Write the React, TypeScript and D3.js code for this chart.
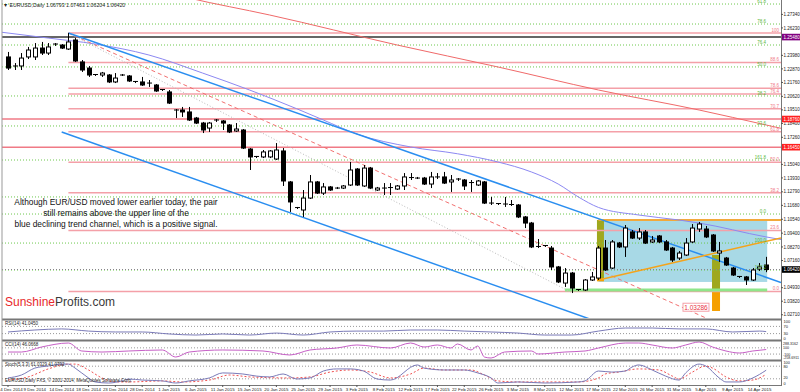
import React from "react";
import * as d3 from "d3";

// x axis labels, one every 4 bars (Sunday bars included)
const dateLabels = [
  "4 Dec 2014", "9 Dec 2014", "14 Dec 2014", "18 Dec 2014", "23 Dec 2014", "28 Dec 2014",
  "1 Jan 2015", "6 Jan 2015", "11 Jan 2015", "15 Jan 2015", "20 Jan 2015", "25 Jan 2015",
  "29 Jan 2015", "3 Feb 2015", "8 Feb 2015", "12 Feb 2015", "17 Feb 2015", "22 Feb 2015",
  "26 Feb 2015", "3 Mar 2015", "8 Mar 2015", "12 Mar 2015", "17 Mar 2015", "22 Mar 2015",
  "26 Mar 2015", "31 Mar 2015", "5 Apr 2015", "9 Apr 2015", "14 Apr 2015",
];

// EUR/USD daily candles, bar 0 = 4 Dec 2014 ... bar 113 = 15 Apr 2015
const open = [
  1.2385, 1.2311, 1.2311, 1.2385, 1.2385, 1.2458, 1.2417, 1.2487, 1.2483, 1.2450,
  1.2524, 1.2344, 1.2294, 1.2241, 1.2237, 1.2237, 1.2180, 1.2233, 1.2229, 1.2184,
  1.2180, 1.2167, 1.2155, 1.2118, 1.2098, 1.1942, 1.1950, 1.1934, 1.1884, 1.1843,
  1.1802, 1.1860, 1.1860, 1.1827, 1.1778, 1.1786, 1.1630, 1.1569, 1.1565, 1.1565,
  1.1548, 1.1614, 1.1360, 1.1150, 1.1130, 1.1228, 1.1360, 1.1269, 1.1319, 1.1306,
  1.1310, 1.1335, 1.1466, 1.1327, 1.1474, 1.1294, 1.1306, 1.1314, 1.1302, 1.1327,
  1.1396, 1.1388, 1.1392, 1.1343, 1.1401, 1.1401, 1.1360, 1.1384, 1.1376, 1.1355,
  1.1335, 1.1360, 1.1183, 1.1183, 1.1175, 1.1175, 1.1171, 1.1073, 1.1023, 1.0831,
  1.0839, 1.0818, 1.0663, 1.0531, 1.0613, 1.0478, 1.0474, 1.0556, 1.0572, 1.0818,
  1.0654, 1.0859, 1.0827, 1.0950, 1.0900, 1.0950, 1.0868, 1.0917, 1.0868, 1.0818,
  1.0736, 1.0761, 1.0868, 1.0974, 1.0974, 1.0925, 1.0777, 1.0736, 1.0654, 1.0585,
  1.0581, 1.0556, 1.0646, 1.0679,
];
const high = [
  1.2426, 1.2335, 1.2417, 1.2467, 1.2499, 1.2508, 1.2499, 1.2499, 1.2491, 1.2581,
  1.2540, 1.2360, 1.2311, 1.2245, 1.2262, 1.2245, 1.2253, 1.2245, 1.2237, 1.2188,
  1.2221, 1.2196, 1.2163, 1.2122, 1.2114, 1.1958, 1.1975, 1.1975, 1.1893, 1.1852,
  1.1852, 1.1876, 1.1868, 1.1835, 1.1843, 1.1794, 1.1638, 1.1573, 1.1622, 1.1622,
  1.1679, 1.1638, 1.1368, 1.1155, 1.1294, 1.1417, 1.1368, 1.1351, 1.1327, 1.1319,
  1.1335, 1.1524, 1.1474, 1.1499, 1.1483, 1.1319, 1.1351, 1.1351, 1.1335, 1.1433,
  1.1433, 1.1401, 1.1401, 1.1442, 1.1433, 1.1442, 1.1417, 1.1392, 1.1384, 1.1376,
  1.1376, 1.1368, 1.1237, 1.1187, 1.1237, 1.1212, 1.1179, 1.1081, 1.1032, 1.0892,
  1.0843, 1.0835, 1.0671, 1.0654, 1.0622, 1.0482, 1.0564, 1.0622, 1.0835, 1.0884,
  1.0884, 1.0868, 1.1007, 1.0966, 1.0982, 1.0966, 1.0917, 1.0925, 1.0884, 1.0827,
  1.0794, 1.0900, 1.1015, 1.1032, 1.0999, 1.0933, 1.0868, 1.0745, 1.0663, 1.0589,
  1.0589, 1.0654, 1.0695, 1.0746,
];
const low = [
  1.2278, 1.2278, 1.2278, 1.2368, 1.2360, 1.2401, 1.2401, 1.2475, 1.2450, 1.2442,
  1.2344, 1.2262, 1.2221, 1.2229, 1.2221, 1.2171, 1.2171, 1.2229, 1.2180, 1.2171,
  1.2147, 1.2139, 1.2098, 1.2106, 1.1999, 1.1884, 1.1893, 1.1860, 1.1835, 1.1761,
  1.1770, 1.1852, 1.1786, 1.1761, 1.1770, 1.1630, 1.1458, 1.1556, 1.1556, 1.1556,
  1.1540, 1.1327, 1.1114, 1.1138, 1.1073, 1.1220, 1.1261, 1.1253, 1.1286, 1.1302,
  1.1302, 1.1327, 1.1327, 1.1319, 1.1302, 1.1286, 1.1253, 1.1253, 1.1294, 1.1294,
  1.1376, 1.1384, 1.1335, 1.1310, 1.1384, 1.1343, 1.1278, 1.1368, 1.1294, 1.1278,
  1.1327, 1.1179, 1.1171, 1.1171, 1.1155, 1.1163, 1.1064, 1.0982, 1.0818, 1.0818,
  1.0827, 1.0638, 1.0531, 1.0499, 1.0449, 1.0466, 1.0466, 1.0548, 1.0556, 1.0630,
  1.0646, 1.0818, 1.0745, 1.0892, 1.0884, 1.0851, 1.0859, 1.0859, 1.0794, 1.0704,
  1.0720, 1.0753, 1.0859, 1.0950, 1.0900, 1.0786, 1.0704, 1.0671, 1.0589, 1.0572,
  1.0515, 1.0548, 1.0630, 1.0620,
];
const close = [
  1.2294, 1.2303, 1.2376, 1.2442, 1.2458, 1.2417, 1.2467, 1.2491, 1.2458, 1.2508,
  1.2352, 1.2278, 1.2237, 1.2237, 1.2253, 1.2180, 1.2212, 1.2237, 1.2188, 1.2180,
  1.2155, 1.2171, 1.2106, 1.2114, 1.2007, 1.1950, 1.1934, 1.1868, 1.1843, 1.1786,
  1.1843, 1.1868, 1.1843, 1.1770, 1.1794, 1.1638, 1.1565, 1.1565, 1.1606, 1.1614,
  1.1622, 1.1368, 1.1196, 1.1146, 1.1228, 1.1360, 1.1269, 1.1319, 1.1294, 1.1310,
  1.1327, 1.1458, 1.1335, 1.1474, 1.1310, 1.1310, 1.1310, 1.1310, 1.1327, 1.1401,
  1.1392, 1.1392, 1.1343, 1.1401, 1.1392, 1.1351, 1.1376, 1.1376, 1.1327, 1.1351,
  1.1368, 1.1187, 1.1187, 1.1179, 1.1179, 1.1171, 1.1073, 1.1023, 1.0827, 1.0827,
  1.0835, 1.0663, 1.0540, 1.0613, 1.0490, 1.0474, 1.0556, 1.0581, 1.0818, 1.0638,
  1.0868, 1.0827, 1.0982, 1.0900, 1.0950, 1.0859, 1.0884, 1.0868, 1.0802, 1.0720,
  1.0777, 1.0859, 1.0982, 1.1015, 1.0909, 1.0794, 1.0794, 1.0679, 1.0597, 1.0581,
  1.0556, 1.0638, 1.0663, 1.0642,
];

// moving averages, read at a few bars
const maSlowBars = [21, 27, 39, 58, 73, 88, 103, 113, 116];
const maSlow = [1.2950, 1.2868, 1.2729, 1.2483, 1.2303, 1.2114, 1.1950, 1.1827, 1.1790];
const maFastBars = [-2, 6, 13, 21, 29, 36, 43, 47, 52, 60, 67, 73, 78, 82, 85, 88, 94, 100, 103, 113, 116];
const maFast = [
  1.2595, 1.2540, 1.2491, 1.2401, 1.2253, 1.2114, 1.1961, 1.1868, 1.1753, 1.1647, 1.1591,
  1.1524, 1.1442, 1.1343, 1.1237, 1.1151, 1.1089, 1.1048, 1.1023, 1.0909, 1.0880,
];

// price axis
const priceTicks = [
  "1.27340", "1.26230", "1.23980", "1.22870", "1.21760", "1.20620", "1.19510", "1.18400",
  "1.17260", "1.15040", "1.13930", "1.12790", "1.11680", "1.10540", "1.09400", "1.08270",
  "1.07160", "1.04930", "1.03820", "1.02710",
];
const markedPrices = [
  { label: "1.25480", bg: "#800080" },
  { label: "1.18760", bg: "#ff2020" },
  { label: "1.16450", bg: "#ff2020" },
  { label: "1.06420", bg: "#000000" },
];

// fibonacci retracement (pink) from the 16 Dec high to the March low
const fibHigh = 1.2581;
const fibLow = 1.0462;
const fibLevels = [0, 23.6, 38.2, 50, 61.8, 70.7, 76.4, 78.6, 88.6, 100];
// green dotted levels
const greenLevels = [1.2819, 1.2655, 1.2483, 1.2303, 1.2065, 1.1819, 1.1540, 1.1237, 1.1097, 1.0859, 1.0638];
const greenLabels = ["61.8", "78.6", "76.4", "50.0", "38.2", "23.6", "161.8", "", "0.0", "100.0", "127.2"];

// indicators
const rsiBars = [0, 4, 8, 12, 16, 20, 24, 28, 32, 36, 40, 44, 48, 52, 56, 60, 64, 68, 72, 76, 80, 84, 88, 92, 96, 100, 104, 108, 112, 113];
const rsiValues = [39, 50, 56, 44, 39, 39, 28, 22, 28, 22, 33, 22, 39, 44, 44, 50, 50, 44, 39, 33, 22, 22, 44, 61, 61, 56, 56, 39, 44, 41];

const cciBars = [0, 2, 5, 9, 11, 14, 18, 23, 25, 27, 32, 38, 42, 45, 49, 52, 57, 60, 62, 64, 66, 67, 69, 70, 71, 72, 74, 78, 79, 83, 86, 88, 92, 94, 96, 99, 101, 103, 105, 107, 109, 111, 113];
const cciValues = [-34, -34, 127, 256, -1, -34, -1, 31, -195, -34, 31, -1, -130, 31, 95, 192, 95, 256, 127, 192, 95, 224, 31, 160, -195, -227, -34, -1, -98, -34, -1, 95, 256, 256, 192, 95, 192, 288, 127, -1, -66, -1, 46];

const stochBars = [0, 2, 4, 6, 8, 9, 10, 12, 13, 15, 17, 18, 20, 23, 25, 27, 30, 32, 35, 37, 39, 41, 43, 45, 47, 49, 51, 53, 55, 57, 61, 62, 65, 68, 70, 72, 73, 76, 80, 85, 86, 88, 90, 92, 93, 94, 96, 98, 100, 101, 103, 104, 106, 107, 109, 111, 113];
const stochMain = [24, 38, 71, 81, 90, 90, 71, 24, 5, 0, 10, 19, 14, 10, 0, 10, 24, 48, 43, 33, 29, 43, 19, 24, 57, 67, 67, 57, 19, 14, 86, 71, 62, 62, 48, 24, 0, 5, 0, 5, 10, 57, 52, 57, 76, 86, 62, 33, 14, 48, 90, 81, 24, 5, 5, 24, 61];
const signalBars = [0, 3, 6, 9, 10, 12, 14, 16, 18, 23, 26, 30, 33, 36, 42, 45, 48, 51, 54, 57, 60, 62, 65, 69, 71, 73, 76, 85, 88, 89, 91, 94, 97, 99, 100, 102, 104, 105, 107, 109, 111, 113];
const stochSignal = [14, 29, 67, 90, 90, 62, 24, 5, 5, 10, 5, 14, 38, 29, 24, 29, 52, 62, 52, 24, 43, 71, 62, 62, 38, 10, 5, 5, 24, 43, 52, 67, 62, 33, 19, 52, 81, 71, 29, 10, 14, 41];

const noteLines = [
  "Although EUR/USD moved lower earlier today, the pair",
  "still remains above the upper line of the",
  "blue declining trend channel, which is a positive signal.",
];

const FONT = "'Liberation Sans', Arial, sans-serif";

export default function App() {
  const W = 800;
  const H = 392;
  const left = 2;
  const right = 781;
  const mainBottom = 318;

  const x = d3.scaleLinear().domain([0, 113]).range([8, 766.2]);
  const y = d3.scaleLinear().domain([1.02444, 1.2852]).range([mainBottom, 0]);
  const rsiY = d3.scaleLinear().domain([0, 100]).range([339, 321]);
  const cciY = d3.scaleLinear().domain([-258.6911, 288.3162]).range([359, 342]);
  const stY = d3.scaleLinear().domain([0, 100]).range([383, 362]);

  // straight line through two (bar, price) anchors, drawn between two bars
  const trend = (b1: number, p1: number, b2: number, p2: number, from: number, to: number) => {
    const k = (p2 - p1) / (b2 - b1);
    return { x1: x(from), y1: y(p1 + k * (from - b1)), x2: x(to), y2: y(p1 + k * (to - b1)) };
  };
  const barAt = (px: number) => x.invert(px);

  const maLine = (bars: number[]) =>
    d3.line<number>().x((_, k) => x(bars[k])).y(v => y(v)).curve(d3.curveMonotoneX);
  const indLine = (bars: number[], sc: d3.ScaleLinear<number, number>) =>
    d3.line<number>().x((_, k) => x(bars[k])).y(v => sc(v)).curve(d3.curveMonotoneX);

  const fibPrice = (r: number) => fibLow + ((fibHigh - fibLow) * r) / 100;

  const upper = trend(9, 1.2581, 113, 1.0578, 9, barAt(right));
  const lower = trend(8, 1.177, 86, 1.025, 8, 92);
  const redDash = trend(9, 1.2581, 100.6, 1.03286, 9, 108);
  const grayDot = trend(9, 1.2581, 84, 1.0453, 9, 84);
  const orange = trend(88, 1.0556, 113, 1.0873, 88, barAt(right));

  const panelSep = [319.5, 340.5, 360.5];
  const tiny = 4.5;

  return (
    <svg width={W} height={H} style={{ position: "absolute", left: 0, top: 0, background: "#fff" }} fontFamily={FONT}>
      <defs>
        <clipPath id="mainClip">
          <rect x={left} y={0} width={right - left} height={mainBottom} />
        </clipPath>
        <clipPath id="indClip">
          <rect x={left} y={320} width={right - left} height={66} />
        </clipPath>
      </defs>

      <g clipPath="url(#mainClip)">
        {/* consolidation box and range bars */}
        <rect x={x(88)} y={y(1.1048)} width={x(113) + 1 - x(88)} height={y(1.054) - y(1.1048)} fill="#a8d9e6" />
        <rect x={x(88) - 1.5} y={y(1.1048)} width={7} height={y(1.0572) - y(1.1048)} fill="#9fa81e" />
        <rect x={x(88) - 1.5} y={y(1.0572)} width={7} height={y(1.0545) - y(1.0572)} fill="#f5a000" />
        <rect x={x(105) - 0.5} y={y(1.0761)} width={8} height={y(1.0474) - y(1.0761)} fill="#9fa81e" />
        <rect x={x(105) - 0.5} y={y(1.0474)} width={8} height={y(1.0302) - y(1.0474)} fill="#f5a000" />

        {/* green dotted levels */}
        {greenLevels.map((p, i) => (
          <line key={`g${i}`} x1={left} x2={right} y1={y(p)} y2={y(p)} stroke="#6cc84c" strokeDasharray="1,2" />
        ))}

        {/* horizontal lines */}
        <line x1={left} x2={right} y1={y(1.2548)} y2={y(1.2548)} stroke="#333" strokeWidth={1.5} />
        <line x1={left} x2={right} y1={y(1.1876)} y2={y(1.1876)} stroke="#f07a86" strokeWidth={1.5} />
        <line x1={left} x2={right} y1={y(1.1645)} y2={y(1.1645)} stroke="#f07a86" strokeWidth={1.5} />
        {fibLevels.map(r => (
          <line key={`f${r}`} x1={x(9)} x2={right} y1={y(fibPrice(r))} y2={y(fibPrice(r))} stroke="#f4a0a8" strokeWidth={1.5} />
        ))}
        <line x1={left} x2={right} y1={y(1.0642)} y2={y(1.0642)} stroke="#888" strokeDasharray="1,2" />
        <line x1={x(83)} x2={x(113) + 1} y1={y(1.0474)} y2={y(1.0474)} stroke="#8ee68a" strokeWidth={3} />
        <line x1={x(88)} x2={right} y1={y(1.1048)} y2={y(1.1048)} stroke="#f2a93b" strokeWidth={2} />

        {/* moving averages */}
        <path d={maLine(maSlowBars)(maSlow) ?? ""} fill="none" stroke="#f06a6a" strokeWidth={1} />
        <path d={maLine(maFastBars)(maFast) ?? ""} fill="none" stroke="#8c88f2" strokeWidth={1} />

        {/* trend lines */}
        <line {...grayDot} stroke="#bbb" strokeDasharray="1,2" />
        <line {...redDash} stroke="#f27070" strokeDasharray="4,3" />
        <line {...upper} stroke="#2a8ef0" strokeWidth={1.5} />
        <line {...lower} stroke="#2a8ef0" strokeWidth={1.5} />
        <line {...orange} stroke="#f5a31a" strokeWidth={1.5} />

        {/* candles */}
        {open.map((o, i) => {
          const c = close[i];
          const cx = Math.round(x(i)) + 0.5;
          const top = y(Math.max(o, c));
          const bot = y(Math.min(o, c));
          const h = bot - top;
          return (
            <g key={`c${i}`}>
              <line x1={cx} x2={cx} y1={y(high[i])} y2={y(low[i])} stroke="#000" />
              {h < 1.5 ? (
                <line x1={cx - 2.5} x2={cx + 2.5} y1={top} y2={top} stroke="#000" />
              ) : (
                <rect x={cx - 2} y={top} width={4} height={h} fill={c >= o ? "#fff" : "#000"} stroke="#000" />
              )}
            </g>
          );
        })}

        {/* level labels */}
        {fibLevels.map(r => (
          <text key={`fl${r}`} x={779} y={y(fibPrice(r)) - 1.2} fontSize={tiny} fill="#f07a86" textAnchor="end">
            {r === 0 ? "0.0" : r === 100 ? "100" : r.toFixed(1)}
          </text>
        ))}
        {greenLevels.map((p, i) => (
          <text key={`gl${i}`} x={766} y={y(p) - 1.2} fontSize={tiny} fill="#5cb83c" textAnchor="end">
            {greenLabels[i]}
          </text>
        ))}

        {/* 1.03286 tag on the dashed line */}
        <rect x={x(100.6)} y={y(1.03286) - 4.5} width={26} height={8} fill="#fff" stroke="#f4a0a8" />
        <text x={x(100.6) + 13} y={y(1.03286) + 2.2} fontSize={6.5} fill="#e83040" textAnchor="middle">1.03286</text>
      </g>

      {/* header and notes */}
      <text x={3} y={7} fontSize={5.2} fill="#222">▼ EURUSD,Daily  1.06793 1.07463 1.06204 1.06420</text>
      {noteLines.map((t, i) => (
        <text key={`n${i}`} x={116} y={205 + i * 11.2} fontSize={8.4} fill="#111" textAnchor="middle">{t}</text>
      ))}
      <text x={5} y={306} fontSize={12}>
        <tspan fill="#e8272a">Sunshine</tspan>
        <tspan fill="#3a3a3a">Profits.com</tspan>
      </text>

      {/* indicator panels */}
      <g clipPath="url(#indClip)">
        {[70, 30].map(v => (
          <line key={`r${v}`} x1={left} x2={right} y1={rsiY(v)} y2={rsiY(v)} stroke="#999" strokeDasharray="1,2" />
        ))}
        {[100, -100].map(v => (
          <line key={`cc${v}`} x1={left} x2={right} y1={cciY(v)} y2={cciY(v)} stroke="#999" strokeDasharray="1,2" />
        ))}
        {[80, 20].map(v => (
          <line key={`s${v}`} x1={left} x2={right} y1={stY(v)} y2={stY(v)} stroke="#999" strokeDasharray="1,2" />
        ))}
        <path d={indLine(rsiBars, rsiY)(rsiValues) ?? ""} fill="none" stroke="#7a7ab8" strokeWidth={1} />
        <path d={indLine(cciBars, cciY)(cciValues) ?? ""} fill="none" stroke="#c65fc6" strokeWidth={1} />
        <path d={indLine(signalBars, stY)(stochSignal) ?? ""} fill="none" stroke="#f05050" strokeDasharray="2,2" strokeWidth={1} />
        <path d={indLine(stochBars, stY)(stochMain) ?? ""} fill="none" stroke="#7a7ab8" strokeWidth={1} />
      </g>
      <text x={5} y={325} fontSize={tiny} fill="#222">RSI(14) 41.0450</text>
      <text x={5} y={346} fontSize={tiny} fill="#222">CCI(14) 46.0668</text>
      <text x={5} y={366} fontSize={tiny} fill="#222">Stoch(5,3,3) 61.0329 41.0792</text>
      <text x={5} y={382} fontSize={tiny} fill="#222">EURUSD,Daily FXS, © 2001-2014, MetaQuotes Software Corp.</text>

      {/* frame */}
      {panelSep.map(s => (
        <line key={`sep${s}`} x1={left} x2={right} y1={s} y2={s} stroke="#777" strokeWidth={2} />
      ))}
      <line x1={left} x2={right} y1={385.5} y2={385.5} stroke="#777" strokeWidth={1} />
      <line x1={left} x2={left} y1={0} y2={386} stroke="#999" strokeWidth={1} />
      <line x1={right + 0.5} x2={right + 0.5} y1={0} y2={386} stroke="#777" strokeWidth={1} />

      {/* price axis */}
      {priceTicks.map(t => (
        <g key={`pt${t}`}>
          <line x1={right} x2={right + 2} y1={y(+t)} y2={y(+t)} stroke="#555" />
          <text x={783.5} y={y(+t) + 1.6} fontSize={tiny} fill="#222">{t}</text>
        </g>
      ))}
      {markedPrices.map(m => (
        <g key={`mp${m.label}`}>
          <rect x={782} y={y(+m.label) - 3.3} width={18} height={6.6} fill={m.bg} />
          <text x={783.5} y={y(+m.label) + 1.6} fontSize={tiny} fill="#fff">{m.label}</text>
        </g>
      ))}

      {/* indicator scales */}
      {[["100", rsiY(100) + 2], ["70", rsiY(70) + 1.5], ["30", rsiY(30) + 1.5], ["0", rsiY(0) + 1]].map(([t, yy]) => (
        <text key={`rl${t}`} x={783.5} y={yy as number} fontSize={4} fill="#222">{t}</text>
      ))}
      {[["288.3162", cciY(288.3162) + 2.5], ["100", cciY(100) + 1.5], ["-100", cciY(-100) + 1.5], ["-258.6911", cciY(-258.6911)]].map(([t, yy]) => (
        <text key={`cl${t}`} x={783} y={yy as number} fontSize={3.6} fill="#222">{t}</text>
      ))}
      {[["100", stY(100) + 2], ["80", stY(80) + 1.5], ["20", stY(20) + 0.5], ["0", stY(0) + 2]].map(([t, yy]) => (
        <text key={`sl${t}`} x={783.5} y={yy as number} fontSize={3.8} fill="#222">{t}</text>
      ))}

      {/* date axis */}
      {dateLabels.map((d, k) => (
        <g key={`d${d}`}>
          <line x1={x(k * 4)} x2={x(k * 4)} y1={385} y2={387} stroke="#555" />
          <text x={Math.max(x(k * 4), 11.5)} y={391} fontSize={4.4} fill="#222" textAnchor="middle">{d}</text>
        </g>
      ))}
    </svg>
  );
}
